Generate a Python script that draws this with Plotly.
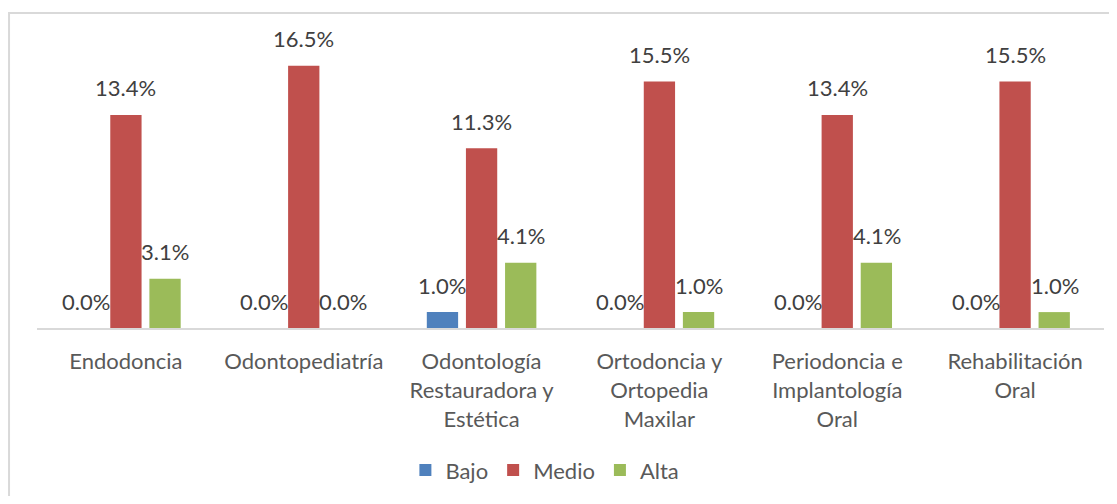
import plotly.graph_objects as go

categorias = ["Endodoncia", "Odontopediatría", "Odontología<br>Restauradora y<br>Estética",
              "Ortodoncia y<br>Ortopedia<br>Maxilar", "Periodoncia e<br>Implantología<br>Oral",
              "Rehabilitación<br>Oral"]
bajo = [0.0, 0.0, 1.0, 0.0, 0.0, 0.0]
medio = [13.4, 16.5, 11.3, 15.5, 13.4, 15.5]
alta = [3.1, 0.0, 4.1, 1.0, 4.1, 1.0]

series = [("Bajo", bajo, "#4F81BD"), ("Medio", medio, "#C0504D"), ("Alta", alta, "#9BBB59")]
fuente = "Lato"
tam = 22

fig = go.Figure()
annotations = []
for i, (name, vals, color) in enumerate(series):
    fig.add_trace(go.Bar(x=categorias, y=vals, name=name, marker_color=color,
                         marker_line_width=0, hoverinfo="skip"))
    for cat, v in zip(categorias, vals):
        annotations.append(dict(x=cat, y=v, xref="x", yref="y", text=f"{v:.1f}%",
                                showarrow=False, xshift=(i - 1) * 39.5, yshift=27,
                                yanchor="middle", font=dict(family=fuente, size=tam, color="#404040")))

fig.update_layout(
    barmode="group",
    bargap=0.34,
    bargroupgap=0.2,
    width=1101,
    height=488,
    margin=dict(l=29, r=5, t=2, b=168),
    paper_bgcolor="white",
    plot_bgcolor="white",
    font=dict(family=fuente, size=tam, color="#595959"),
    showlegend=True,
    legend=dict(orientation="h", x=0.476, xanchor="center", y=-0.447, yanchor="middle",
                font=dict(family=fuente, size=tam, color="#595959"), traceorder="normal",
                itemwidth=30),
    annotations=annotations,
    xaxis=dict(showline=True, linecolor="#D9D9D9", linewidth=2, ticks="",
               ticklabelstandoff=13, tickfont=dict(family=fuente, size=tam, color="#595959"),
               fixedrange=True),
    yaxis=dict(range=[0, 20], visible=False, showgrid=False, zeroline=False, fixedrange=True),
    shapes=[dict(type="rect", xref="paper", yref="paper", x0=-0.0262, x1=1.02, y0=-1.0, y1=0.9906,
                 line=dict(color="#D9D9D9", width=2), fillcolor="rgba(0,0,0,0)", layer="below")],
)

fig.write_html("out.html")
